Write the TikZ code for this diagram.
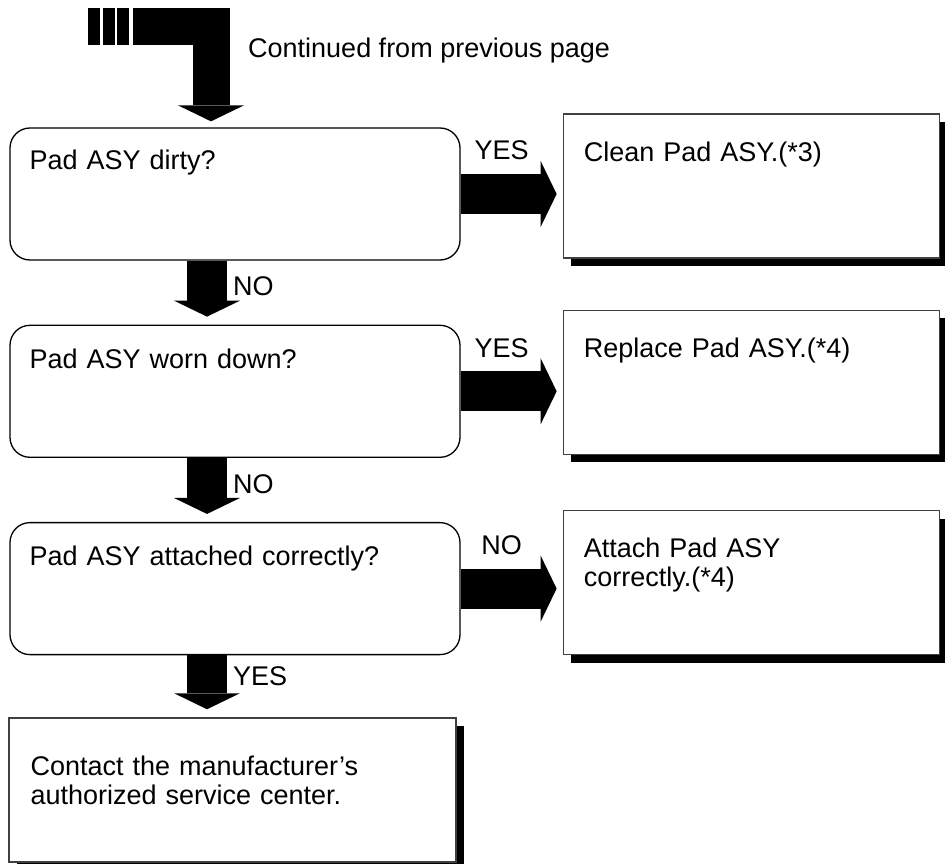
\documentclass[tikz,border=0pt]{standalone}
\usepackage{fontspec}
\setmainfont{Liberation Sans}
\usetikzlibrary{arrows.meta,positioning,shadows}
\newcommand{\flowfont}{\fontsize{27}{29}\selectfont}
\tikzset{
    decbox/.style={draw, line width=1.3pt, rounded corners=20pt, minimum width=450pt, minimum height=132pt, inner sep=0pt},
    actbox/.style={draw=black!75, line width=1.3pt, fill=white, minimum width=376pt, minimum height=144pt, inner sep=0pt, drop shadow={shadow xshift=8pt, shadow yshift=-8pt, fill=black, opacity=1}},
    boxtext/.style={anchor=base west, inner sep=0pt, text width=420pt, align=left, font=\flowfont},
    flowlabel/.style={inner sep=0pt, font=\flowfont},
    blockarrow/.style={line width=40pt, -{Triangle[width=66pt, length=16pt, line width=0pt]}}
}
\begin{document}
\begin{tikzpicture}[x=1pt, y=-1pt]
    \useasboundingbox (0,0) rectangle (945,864);

    % questions
    \node[decbox] (dec1) at (235,194) {};
    \node[decbox, below=64pt of dec1] (dec2) {};
    \node[decbox, below=64pt of dec2] (dec3) {};
    \node[actbox, below=62pt of dec3, xshift=-2.5pt, minimum width=447pt] (final) {};

    % remedies
    \node[actbox, right=102pt of dec1.south east, anchor=south west, yshift=2pt] (act1) {};
    \node[actbox, right=102pt of dec2.south east, anchor=south west, yshift=3pt] (act2) {};
    \node[actbox, right=102pt of dec3.south east, anchor=south west] (act3) {};

    \node[boxtext] (dec1txt) at ([shift={(20pt,-42pt)}]dec1.north west) {Pad ASY dirty?};
    \node[boxtext] (dec2txt) at ([shift={(20pt,-44pt)}]dec2.north west) {Pad ASY worn down?};
    \node[boxtext] (dec3txt) at ([shift={(20pt,-44pt)}]dec3.north west) {Pad ASY attached correctly?};
    \node[boxtext] (act1txt) at ([shift={(21pt,-48pt)}]act1.north west) {Clean Pad ASY.(*3)};
    \node[boxtext] (act2txt) at ([shift={(21pt,-48pt)}]act2.north west) {Replace Pad ASY.(*4)};
    \node[boxtext] (act3txt) at ([shift={(21pt,-48pt)}]act3.north west) {Attach Pad ASY\\correctly.(*4)};
    \node[boxtext] (finaltxt) at ([shift={(22pt,-58pt)}]final.north west) {Contact the manufacturer’s\\authorized service center.};

    % continued from previous page
    \foreach \x in {88,103,117}
        \fill (\x,8) rectangle ++(12,37);
    \draw[blockarrow, line width=37pt, shorten >=6pt] (133,26.5) -- (211,26.5) -- ([xshift=-24pt]dec1.north);
    \node[flowlabel, anchor=base west] (cont) at (248,58) {Continued from previous page};

    \foreach \a/\b/\t/\d in {dec1/dec2/NO/35pt,dec2/dec3/NO/36pt,dec3/final/YES/30pt}{
        \draw[blockarrow, shorten >=8pt] ([xshift=-28pt]\a.south) -- ([xshift=-28pt]\a.south |- \b.north);
        \node[flowlabel, anchor=base west] (\a-down) at ([shift={(-2pt,-\d)}]\a.south) {\t};
    }

    \foreach \a/\b/\t in {dec1/act1/YES,dec2/act2/YES,dec3/act3/NO}{
        \draw[blockarrow, shorten >=6pt] (\a.east) -- (\a.east -| \b.west);
        \node[flowlabel, anchor=base] (\a-side) at ([shift={(41pt,34pt)}]\a.east) {\t};
    }
\end{tikzpicture}
\end{document}
